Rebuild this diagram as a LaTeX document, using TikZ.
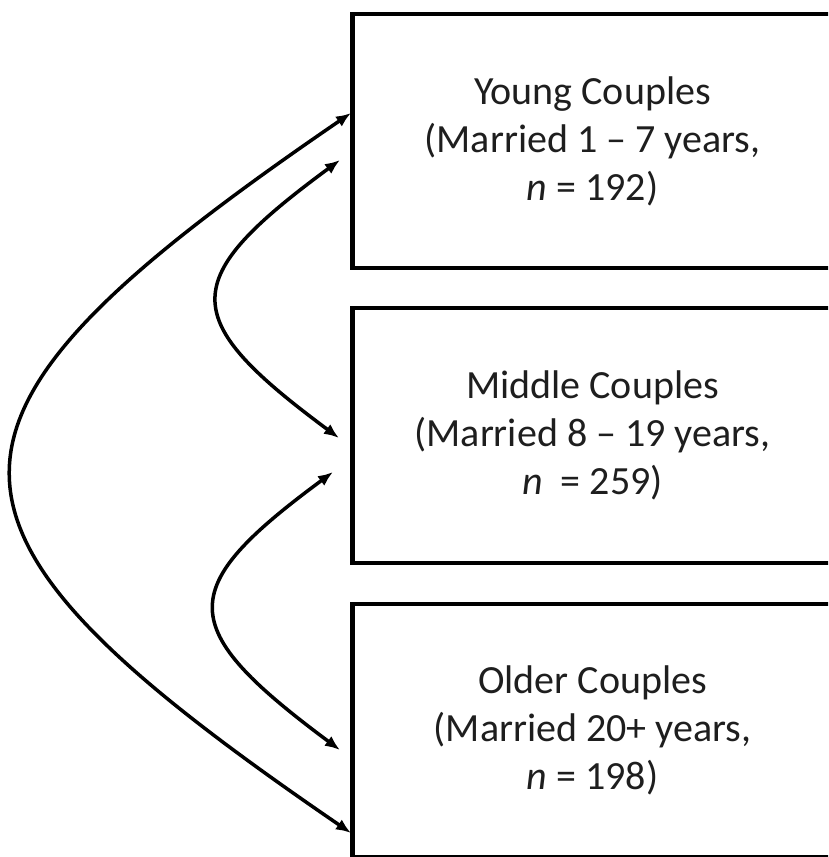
\documentclass[tikz,border=0pt]{standalone}
\usepackage{fontspec}
\setmainfont{Carlito}
\usetikzlibrary{arrows.meta}
\definecolor{textgray}{HTML}{1E1E1E}
\tikzset{
  groupbox/.style={draw=black, line width=4.5pt, minimum width=480pt, align=center,
    font=\fontsize{40}{48}\selectfont, text=textgray, inner sep=0pt},
  link/.style={line width=3.5pt, {Latex[length=15pt,width=12pt]}-{Latex[length=15pt,width=12pt]}}
}
\begin{document}
\begin{tikzpicture}[x=1pt,y=-1pt]
\useasboundingbox (0,0) rectangle (828,857);
\clip (0,0) rectangle (828,857);
\node[groupbox, minimum height=254pt] (young) at (592.5,141) {Young Couples\\(Married 1 – 7 years,\\\textit{n} = 192)};
\node[groupbox, minimum height=255pt] (middle) at (592.5,435.5) {Middle Couples\\(Married 8 – 19 years,\\\textit{n}\ \ = 259)};
\node[groupbox, minimum height=253pt] (older) at (592.5,730.5) {Older Couples\\(Married 20+ years,\\\textit{n} = 198)};
\coordinate (ya) at (351,113);
\coordinate (yb) at (340,160);
\coordinate (ma) at (339,438);
\coordinate (mb) at (333,472);
\coordinate (oa) at (340,750);
\coordinate (ob) at (351,833);
\draw[link] (ya) .. controls (-101,422) and (-101,524) .. (ob);
\draw[link] (yb) .. controls (177,280) and (177,318) .. (ma);
\draw[link] (mb) .. controls (174.5,589) and (174.5,627) .. (oa);
\end{tikzpicture}
\end{document}
